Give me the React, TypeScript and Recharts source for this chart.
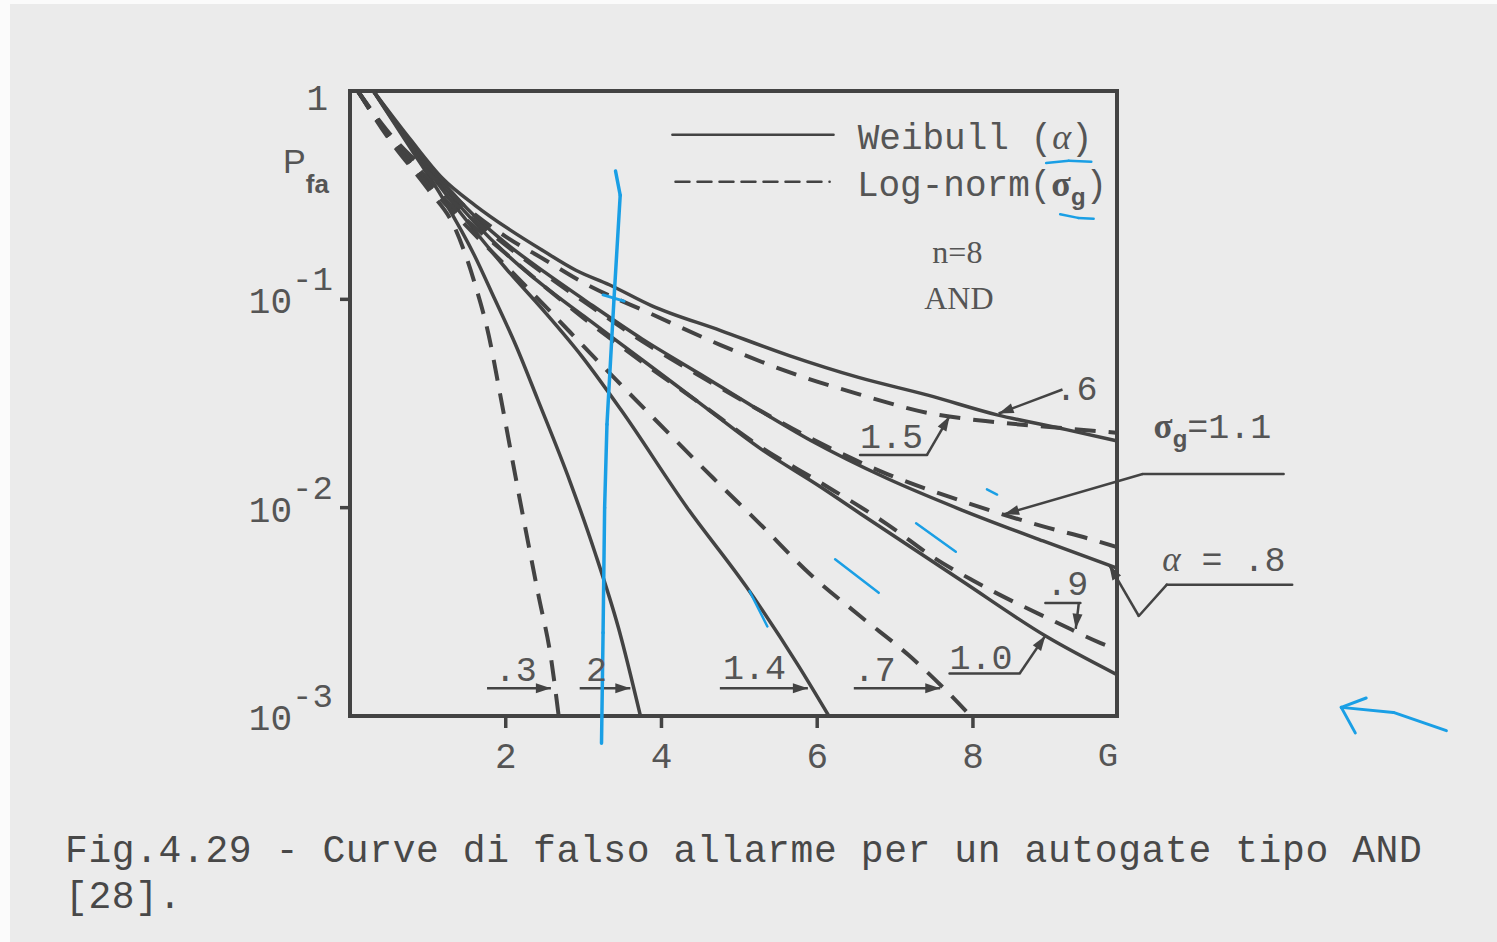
import React from 'react';
import {
  LineChart, Line, XAxis, YAxis, ReferenceLine, ReferenceDot, ReferenceArea,
} from 'recharts';

// False-alarm probability Pfa versus threshold G, n = 8, AND autogate.
// Each curve is a list of [G, Pfa] pairs.
const weibull06 = [[0.3, 1], [0.77, 0.589], [1.19, 0.38], [1.61, 0.282], [2.05, 0.216], [2.47, 0.172], [2.9, 0.138], [3.33, 0.1175], [3.87, 0.0933], [4.76, 0.0708], [5.64, 0.0537], [6.53, 0.0422], [7.42, 0.0347], [8.31, 0.0279], [9.2, 0.0237], [9.85, 0.0209]];
const weibull08 = [[0.3, 1], [0.77, 0.575], [1.2, 0.363], [1.6, 0.251], [2.0, 0.186], [2.5, 0.135], [3.0, 0.1], [3.75, 0.0646], [4.5, 0.0437], [5.2, 0.0302], [5.93, 0.0209], [6.9, 0.0138], [7.85, 0.00977], [8.9, 0.00692], [9.85, 0.00513]];
const weibull10 = [[0.3, 1], [0.77, 0.562], [1.2, 0.347], [1.6, 0.234], [2.0, 0.166], [2.5, 0.115], [3.0, 0.0832], [3.75, 0.0513], [4.5, 0.0316], [5.28, 0.0191], [6.04, 0.0126], [6.56, 0.00933], [7.85, 0.00447], [8.95, 0.0024], [9.85, 0.00158]];
const weibull14 = [[0.3, 1], [0.77, 0.55], [1.2, 0.331], [1.6, 0.214], [2.0, 0.141], [2.5, 0.0871], [2.97, 0.0537], [3.48, 0.0295], [4.33, 0.01], [5.09, 0.00417], [5.76, 0.00174], [6.15, 0.001]];
const weibull20 = [[0.3, 1], [0.77, 0.537], [1.2, 0.302], [1.6, 0.162], [1.86, 0.1], [2.14, 0.0589], [2.41, 0.0331], [2.83, 0.0132], [3.15, 0.00603], [3.45, 0.00263], [3.73, 0.001]];

const lognorm15 = [[0.1, 1], [0.5, 0.631], [1.0, 0.407], [1.5, 0.275], [2.0, 0.2], [2.5, 0.155], [3.0, 0.12], [3.87, 0.0851], [4.76, 0.0603], [5.64, 0.0447], [6.53, 0.0351], [7.42, 0.0285], [8.31, 0.0257], [9.2, 0.024], [9.85, 0.0229]];
const lognorm11 = [[0.1, 1], [0.5, 0.617], [1.0, 0.38], [1.5, 0.257], [2.0, 0.182], [2.5, 0.132], [3.0, 0.0977], [3.75, 0.0631], [4.5, 0.0427], [5.2, 0.0302], [5.93, 0.0214], [6.9, 0.0145], [7.94, 0.0105], [8.9, 0.00813], [9.5, 0.00708], [9.85, 0.00646]];
const lognorm09 = [[0.1, 1], [0.5, 0.603], [1.0, 0.363], [1.5, 0.24], [2.0, 0.166], [2.5, 0.115], [3.0, 0.0813], [3.75, 0.0501], [4.5, 0.0316], [5.28, 0.0195], [6.04, 0.0132], [6.9, 0.00832], [7.5, 0.00575], [8.0, 0.00447], [9.13, 0.00275], [9.64, 0.00224], [9.85, 0.00209]];
const lognorm07 = [[0.1, 1], [0.5, 0.603], [1.0, 0.355], [1.5, 0.224], [2.0, 0.145], [2.5, 0.0933], [3.14, 0.0525], [3.9, 0.0269], [4.67, 0.0138], [5.27, 0.00832], [5.91, 0.00479], [6.55, 0.00302], [7.18, 0.00195], [7.66, 0.00132], [7.97, 0.001]];
const lognorm03 = [[0.1, 1], [0.5, 0.589], [1.0, 0.339], [1.35, 0.219], [1.6, 0.12], [1.78, 0.0676], [1.93, 0.0347], [2.17, 0.0115], [2.42, 0.0038], [2.58, 0.00191], [2.68, 0.001]];

const xTicks = [2, 4, 6, 8, 9.85];
const yTicks = [0.001, 0.01, 0.1, 1];

const INK = '#434343';
const TEXT = '#555555';
const PEN = '#1a9fe5';
const MONO = '"Liberation Mono", "DejaVu Sans Mono", monospace';
const SERIF = '"Liberation Serif", "DejaVu Serif", serif';
const SANS = '"Liberation Sans", Arial, sans-serif';

const rows = (pts: number[][]) => pts.map(([g, p]) => ({ g, p }));

const solid = [weibull06, weibull08, weibull10, weibull14, weibull20];
const dashed = [lognorm15, lognorm11, lognorm09, lognorm07, lognorm03];

function XTick({ x, y, payload }: any) {
  const v = payload.value;
  if (v > 9) {
    return <text x={x - 9} y={y + 50} textAnchor="middle" fontFamily={MONO} fontSize={34} fill={TEXT}>G</text>;
  }
  return (
    <g>
      <line x1={x} x2={x} y1={y} y2={y + 12} stroke={INK} strokeWidth={3.5} />
      <text x={x} y={y + 52} textAnchor="middle" fontFamily={MONO} fontSize={36} fill={TEXT}>{v}</text>
    </g>
  );
}

function YTick({ x, y, payload }: any) {
  const v = payload.value;
  if (v === 1) {
    return <text x={x - 22} y={y + 19} textAnchor="end" fontFamily={MONO} fontSize={36} fill={TEXT}>1</text>;
  }
  const exp = Math.round(Math.log10(v));
  return (
    <g>
      {v > 0.001 && <line x1={x - 10} x2={x} y1={y} y2={y} stroke={INK} strokeWidth={3.5} />}
      <text x={x - 58} y={y + 14} textAnchor="end" fontFamily={MONO} fontSize={36} fill={TEXT}>10</text>
      <text x={x - 58} y={y - 9} textAnchor="start" fontFamily={MONO} fontSize={34} fill={TEXT}>{'-' + -exp}</text>
    </g>
  );
}

// line with a filled head at its end point
function arrowShape(props: any) {
  const { x1, y1, x2, y2 } = props;
  const a = Math.atan2(y2 - y1, x2 - x1);
  const len = 15;
  const half = 5;
  const bx = x2 - len * Math.cos(a);
  const by = y2 - len * Math.sin(a);
  const head = `${x2},${y2} ${bx + half * Math.sin(a)},${by - half * Math.cos(a)} ${bx - half * Math.sin(a)},${by + half * Math.cos(a)}`;
  return (
    <g>
      <line x1={x1} y1={y1} x2={x2} y2={y2} stroke={INK} strokeWidth={2.5} />
      <polygon points={head} fill={INK} />
    </g>
  );
}

function plainShape(props: any) {
  const { x1, y1, x2, y2, stroke, strokeWidth, strokeDasharray } = props;
  return (
    <line x1={x1} y1={y1} x2={x2} y2={y2} stroke={stroke} strokeWidth={strokeWidth}
      strokeDasharray={strokeDasharray} strokeLinecap="round" />
  );
}

// polyline built from reference segments; the last one may carry an arrow head
function leader(key: string, pts: number[][], arrow = true, stroke = INK, width = 2.5) {
  return pts.slice(1).map((b, i) => {
    const a = pts[i];
    const last = i === pts.length - 2;
    return (
      <ReferenceLine key={`${key}-${i}`} segment={[{ x: a[0], y: a[1] }, { x: b[0], y: b[1] }]}
        ifOverflow="visible" stroke={stroke} strokeWidth={width}
        shape={last && arrow ? arrowShape : plainShape} />
    );
  });
}

function note(key: string, x: number, y: number, draw: (cx: number, cy: number) => React.ReactNode) {
  return (
    <ReferenceDot key={key} x={x} y={y} r={0} ifOverflow="visible"
      shape={(p: any) => <g>{draw(p.cx, p.cy)}</g>} />
  );
}

const label = (key: string, x: number, y: number, text: string, anchor = 'start') =>
  note(key, x, y, (cx, cy) => (
    <text x={cx} y={cy} textAnchor={anchor} fontFamily={MONO} fontSize={35} fill={TEXT}>{text}</text>
  ));

export default function App() {
  return (
    <div style={{ position: 'absolute', left: 0, top: 0, width: 1497, height: 942, background: '#fbfbfb' }}>
      <div style={{ position: 'absolute', left: 10, top: 4, width: 1487, height: 938, background: '#ebebeb' }} />
      <div style={{ position: 'absolute', left: 0, top: 0 }}>
        <LineChart width={1497} height={942} margin={{ top: 91, right: 380, bottom: 166, left: 250 }}>
          <XAxis type="number" dataKey="g" domain={[0, 9.85]} ticks={xTicks} interval={0}
            allowDataOverflow axisLine={false} tickLine={false} tickSize={0} tickMargin={0}
            height={60} tick={<XTick />} />
          <YAxis type="number" scale="log" domain={[0.001, 1]} ticks={yTicks} interval={0}
            allowDataOverflow axisLine={false} tickLine={false} tickSize={0} tickMargin={0}
            width={100} tick={<YTick />} />
          <ReferenceArea x1={0} x2={9.85} y1={0.001} y2={1} fill="none" stroke={INK} strokeWidth={4} />

          {solid.map((c, i) => (
            <Line key={`w${i}`} data={rows(c)} dataKey="p" type="monotone" stroke={INK}
              strokeWidth={3.5} dot={false} activeDot={false} isAnimationActive={false} />
          ))}
          {dashed.map((c, i) => (
            <Line key={`l${i}`} data={rows(c)} dataKey="p" type="monotone" stroke={INK}
              strokeWidth={4} strokeDasharray="21 13" dot={false} activeDot={false} isAnimationActive={false} />
          ))}

          {/* legend */}
          {leader('leg-w', [[4.14, 0.617], [6.21, 0.617]], false)}
          <ReferenceLine segment={[{ x: 4.18, y: 0.367 }, { x: 6.16, y: 0.367 }]} ifOverflow="visible"
            stroke={INK} strokeWidth={2.5} strokeDasharray="14 8" shape={plainShape} />
          {note('leg-wt', 6.52, 0.528, (cx, cy) => (
            <text x={cx} y={cy} fontFamily={MONO} fontSize={36} fill={TEXT}>
              Weibull (<tspan fontFamily={SERIF} fontStyle="italic">α</tspan>)
            </text>
          ))}
          {note('leg-lt', 6.51, 0.315, (cx, cy) => (
            <text x={cx} y={cy} fontFamily={MONO} fontSize={36} fill={TEXT}>
              Log-norm(<tspan fontFamily={SERIF} fontWeight="bold">σ</tspan>
              <tspan fontFamily={SANS} fontWeight="bold" fontSize={24} dy={9}>g</tspan>
              <tspan dy={-9}>)</tspan>
            </text>
          ))}
          {note('n8', 7.8, 0.15, (cx, cy) => (
            <text x={cx} y={cy} textAnchor="middle" fontFamily={SERIF} fontSize={32} fill={TEXT}>n=8</text>
          ))}
          {note('and', 7.82, 0.0903, (cx, cy) => (
            <text x={cx} y={cy} textAnchor="middle" fontFamily={SERIF} fontSize={32} fill={TEXT}>AND</text>
          ))}
          {note('pfa', -0.86, 0.404, (cx, cy) => (
            <text x={cx} y={cy} fontFamily={SANS} fontSize={34} fill={TEXT}>
              P<tspan fontWeight="bold" fontSize={26} dy={20}>fa</tspan>
            </text>
          ))}

          {/* curve labels */}
          {label('t06', 9.06, 0.0327, '.6')}
          {leader('a06', [[9.15, 0.0369], [8.33, 0.0283]])}

          {label('t15', 6.55, 0.0194, '1.5')}
          {leader('a15', [[6.55, 0.0179], [7.41, 0.0179], [7.7, 0.0275]])}

          {note('t11', 10.32, 0.0215, (cx, cy) => (
            <text x={cx} y={cy} fontFamily={MONO} fontSize={35} fill={TEXT}>
              <tspan fontFamily={SERIF} fontWeight="bold">σ</tspan>
              <tspan fontFamily={SANS} fontWeight="bold" fontSize={24} dy={9}>g</tspan>
              <tspan dy={-9}>=1.1</tspan>
            </text>
          ))}
          {leader('a11', [[11.99, 0.0145], [10.18, 0.0145], [8.4, 0.0093]])}

          {note('t08', 10.43, 0.00495, (cx, cy) => (
            <text x={cx} y={cy} fontFamily={MONO} fontSize={35} fill={TEXT}>
              <tspan fontFamily={SERIF} fontStyle="italic">α</tspan> = .8
            </text>
          ))}
          {leader('a08', [[12.1, 0.00427], [10.49, 0.00427], [10.13, 0.00302], [9.75, 0.0053]])}

          {label('t09', 8.94, 0.00382, '.9')}
          {leader('a09', [[8.93, 0.00349], [9.38, 0.00349]], false)}
          {leader('a09b', [[9.36, 0.00349], [9.32, 0.00262]])}

          {label('t10', 7.7, 0.00169, '1.0')}
          {leader('a10', [[7.7, 0.0016], [8.6, 0.0016], [8.93, 0.00243]])}

          {label('t03', 1.86, 0.00148, '.3')}
          {leader('a03', [[1.76, 0.00136], [2.58, 0.00136]])}
          {label('t20', 3.03, 0.00148, '2')}
          {leader('a20', [[2.95, 0.00136], [3.6, 0.00136]])}
          {label('t14', 4.79, 0.0015, '1.4')}
          {leader('a14', [[4.75, 0.00136], [5.88, 0.00136]])}
          {label('t07', 6.47, 0.00148, '.7')}
          {leader('a07', [[6.47, 0.00136], [7.58, 0.00136]])}

          {/* pen marks */}
          {leader('pen-v', [[3.41, 0.413], [3.47, 0.316], [3.39, 0.1], [3.3, 0.0251], [3.27, 0.01], [3.25, 0.00251], [3.23, 0.00074]], false, PEN, 3.5)}
          {leader('pen-x', [[3.25, 0.105], [3.52, 0.098]], false, PEN, 3)}
          {leader('pen-s1', [[8.94, 0.451], [9.23, 0.462], [9.52, 0.458]], false, PEN, 2.5)}
          {leader('pen-s2', [[9.12, 0.256], [9.35, 0.246], [9.55, 0.244]], false, PEN, 2.5)}
          {leader('pen-m1', [[8.18, 0.01225], [8.31, 0.01156]], false, PEN, 2.5)}
          {leader('pen-m2', [[7.27, 0.00841], [7.78, 0.00614]], false, PEN, 2.5)}
          {leader('pen-m3', [[6.23, 0.00565], [6.79, 0.0039]], false, PEN, 2.5)}
          {leader('pen-m4', [[5.13, 0.00398], [5.36, 0.00269]], false, PEN, 2.5)}
          {leader('pen-a', [[14.08, 0.00085], [13.4, 0.00104], [12.73, 0.0011]], false, PEN, 3)}
          {leader('pen-h1', [[12.73, 0.0011], [13.05, 0.00122]], false, PEN, 3)}
          {leader('pen-h2', [[12.73, 0.0011], [12.91, 0.00083]], false, PEN, 3)}
        </LineChart>
      </div>
      <div style={{
        position: 'absolute', left: 65, top: 829, fontFamily: MONO, fontSize: 38,
        letterSpacing: 0.6, lineHeight: '46px', color: '#484848', whiteSpace: 'pre',
      }}>
        {'Fig.4.29 - Curve di falso allarme per un autogate tipo AND\n[28].'}
      </div>
    </div>
  );
}
